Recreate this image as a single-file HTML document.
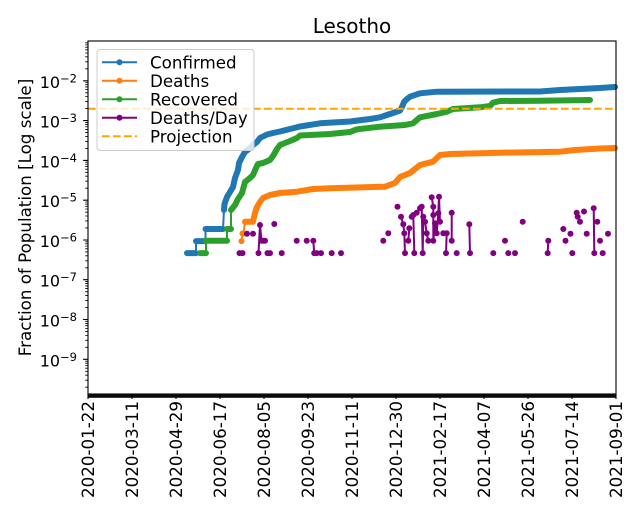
<!DOCTYPE html>
<html><head><meta charset="utf-8"><style>
html,body{margin:0;padding:0;background:#fff;}
svg{display:block;font-family:"DejaVu Sans","Liberation Sans",sans-serif;}
</style></head><body>
<svg width="640" height="520" viewBox="0 0 640 520" xmlns="http://www.w3.org/2000/svg">
<rect width="640" height="520" fill="#fff"/>
<text x="352" y="33" font-size="20" text-anchor="middle" fill="#000">Lesotho</text>

<!-- Confirmed -->
<g fill="none" stroke="#1f77b4" stroke-linejoin="round" stroke-linecap="round">
<path stroke-width="6" d="M187,253.1 L196,253.1 M196,241.1 L205.5,241.1 M205.5,229 L223,229"/>
<path stroke-width="2" d="M196,253.1 L196,241.1 M205.5,241.1 L205.5,229 M223,229 L224,210"/>
<polyline stroke-width="6" points="224,210 224.5,204 227,197 230,192 233,187 235,178 238,170 239,163 242,157 245,152 250,148 253,145 257,142 260,138 267,134.5 273,133 280,131.5 300,126.5 320,123.3 350,121.5 370,119 380,117.3 393,113 400,110.5 402,107 404,102 407,99 410,96.7 420,93.3 437,91.7 540,91.5 560,90 580,89 600,88 615,87"/>
</g>
<!-- Deaths -->
<g fill="none" stroke="#ff7f0e" stroke-linejoin="round" stroke-linecap="round">
<circle cx="241.5" cy="241.1" r="3" fill="#ff7f0e" stroke="none"/>
<path stroke-width="2" d="M241.5,241.1 L242.5,233.5 M243.5,233.5 L245,221.7"/>
<path stroke-width="6" d="M242.5,233.5 L243.5,233.5"/>
<polyline stroke-width="6" points="245,221.7 253,221.7 255,213 257,207 260,202 263,198 270,195 280,193 297,191.7 313,189 330,188.3 385,186.7 395,183 400,177 405,175 410,173 420,165 433,161.7 440,155 450,154 500,152.7 560,151.7 575,150 600,148.5 615,148"/>
</g>
<!-- Recovered -->
<g fill="none" stroke="#2ca02c" stroke-linejoin="round" stroke-linecap="round">
<path stroke-width="6" d="M200,253.1 L206,253.1 M206,240.7 L227,240.7 M227,229 L231,229"/>
<path stroke-width="2" d="M206,253.1 L206,240.7 M227,240.7 L227,229 M231,229 L231,210"/>
<polyline stroke-width="6" points="231,210 235,205 238,199 242,193 245,182 250,178 253,175 256,168 258,164 263,163 270,160 273,156 277,149 280,145 290,141 297,138 300,135.5 330,134 350,132 357,129.3 380,126.7 405,125 413,123.3 420,117.3 437,114 447,111.7 453,109 480,107.3 490,106 493,102.7 500,101 540,100.7 590,100"/>
</g>
<!-- Deaths/Day -->
<g fill="none" stroke="#800080" stroke-width="2" stroke-linejoin="round">
<polyline points="239.5,253.1 242.5,253.1"/>
<polyline points="258.5,253.1 260,225 261.5,240.7 263.5,240.7"/>
<polyline points="313.3,240.7 314.2,253.1"/>
<polyline points="401,216.7 403.3,224.3 404.3,233.3 405,253.1"/>
<polyline points="408.3,240.7 409.3,228.3"/>
<polyline points="411.7,216.7 413.3,215 414.3,253.1"/>
<polyline points="416.7,212.7 420,208.3 421.7,206.7 422.7,253.1 423.3,216.7 425,221.7 426.7,233.3 428.3,240.7"/>
<polyline points="431.7,197.3 433.3,206.7 433.3,240.7 435,223.3 436.7,233.3 438.3,213.3 439,196.7 440,221.7"/>
<polyline points="443.3,233.3 446.7,233.3 446,253.1"/>
<polyline points="451.7,212.7 451.7,240.7"/>
<polyline points="469.3,224.3 470,253.1"/>
<polyline points="547.7,253.1 548.3,240.7"/>
<polyline points="576.7,212.7 577.7,216.7 580,221.7"/>
<polyline points="593.7,208.3 594.3,253.1"/>
</g>
<g fill="#800080">
<circle cx="239.5" cy="253.1" r="3"/><circle cx="242.5" cy="253.1" r="3"/><circle cx="247" cy="233.7" r="3"/><circle cx="253" cy="233.7" r="3"/>
<circle cx="258.5" cy="253.1" r="3"/><circle cx="260" cy="225" r="3"/><circle cx="261.5" cy="240.7" r="3"/><circle cx="263.5" cy="240.7" r="3"/><circle cx="265" cy="240.7" r="3"/>
<circle cx="267.5" cy="253.1" r="3"/><circle cx="270" cy="253.1" r="3"/><circle cx="274.3" cy="224" r="3"/><circle cx="281.7" cy="253.1" r="3"/>
<circle cx="296.7" cy="240.7" r="3"/><circle cx="306.7" cy="240.7" r="3"/><circle cx="313.3" cy="240.7" r="3"/><circle cx="314.2" cy="253.1" r="3"/>
<circle cx="316.7" cy="253.1" r="3"/><circle cx="321" cy="253.1" r="3"/><circle cx="331.7" cy="253.1" r="3"/><circle cx="341" cy="253.1" r="3"/>
<circle cx="383.3" cy="240.7" r="3"/><circle cx="388.3" cy="233.3" r="3"/><circle cx="397.5" cy="206.7" r="3"/><circle cx="401" cy="216.7" r="3"/>
<circle cx="403.3" cy="224.3" r="3"/><circle cx="404.3" cy="233.3" r="3"/><circle cx="405" cy="253.1" r="3"/><circle cx="408.3" cy="240.7" r="3"/>
<circle cx="409.3" cy="228.3" r="3"/><circle cx="411.7" cy="216.7" r="3"/><circle cx="413.3" cy="215" r="3"/><circle cx="414.3" cy="253.1" r="3"/>
<circle cx="416.7" cy="212.7" r="3"/><circle cx="420" cy="208.3" r="3"/><circle cx="421.7" cy="206.7" r="3"/><circle cx="422.7" cy="253.1" r="3"/>
<circle cx="423.3" cy="216.7" r="3"/><circle cx="425" cy="221.7" r="3"/><circle cx="426.7" cy="233.3" r="3"/><circle cx="428.3" cy="240.7" r="3"/>
<circle cx="431.7" cy="197.3" r="3"/><circle cx="433.3" cy="206.7" r="3"/><circle cx="433.3" cy="215" r="3"/><circle cx="433.3" cy="240.7" r="3"/>
<circle cx="435" cy="223.3" r="3"/><circle cx="436.7" cy="233.3" r="3"/><circle cx="438.3" cy="213.3" r="3"/><circle cx="439" cy="196.7" r="3"/>
<circle cx="440" cy="221.7" r="3"/><circle cx="443.3" cy="233.3" r="3"/><circle cx="446.7" cy="233.3" r="3"/><circle cx="446" cy="253.1" r="3"/>
<circle cx="451.7" cy="212.7" r="3"/><circle cx="451.7" cy="240.7" r="3"/><circle cx="456.7" cy="253.1" r="3"/><circle cx="469.3" cy="224.3" r="3"/><circle cx="470" cy="253.1" r="3"/>
<circle cx="493.3" cy="253.1" r="3"/><circle cx="505" cy="240.7" r="3"/><circle cx="508.3" cy="253.1" r="3"/><circle cx="515" cy="253.1" r="3"/><circle cx="522.7" cy="221.7" r="3"/>
<circle cx="548.3" cy="240.7" r="3"/><circle cx="547.7" cy="253.1" r="3"/><circle cx="563.3" cy="229" r="3"/><circle cx="565.5" cy="240.7" r="3"/><circle cx="570.5" cy="233.7" r="3"/>
<circle cx="572.3" cy="253.1" r="3"/><circle cx="576.7" cy="212.7" r="3"/><circle cx="577.7" cy="216.7" r="3"/><circle cx="580" cy="221.7" r="3"/><circle cx="584" cy="211.5" r="3"/>
<circle cx="586.7" cy="233.7" r="3"/><circle cx="593.7" cy="208.3" r="3"/><circle cx="594.3" cy="253.1" r="3"/><circle cx="597.3" cy="221.7" r="3"/><circle cx="600" cy="240.7" r="3"/>
<circle cx="602.7" cy="253.1" r="3"/><circle cx="608" cy="233.7" r="3"/>
</g>
<!-- Projection -->
<line x1="88" y1="108.7" x2="616" y2="108.7" stroke="#FFA500" stroke-width="2" stroke-dasharray="7.7,3.3"/>

<!-- Axes frame -->
<rect x="88" y="41" width="528" height="353" fill="none" stroke="#000" stroke-width="1.1"/>
<!-- x minor tick band -->
<rect x="87.5" y="394" width="529" height="3.8" fill="#0a0a0a"/>
<!-- x major ticks -->
<path stroke="#000" stroke-width="1.1" d="M88,394V399 M132,394V399 M176,394V399 M220,394V399 M264,394V399 M308,394V399 M352,394V399 M396,394V399 M440,394V399 M484,394V399 M528,394V399 M572,394V399 M616,394V399"/>
<g font-size="16.7" fill="#000" text-anchor="end">
<text transform="translate(93.8,401) rotate(-90)">2020-01-22</text>
<text transform="translate(137.8,401) rotate(-90)">2020-03-11</text>
<text transform="translate(181.8,401) rotate(-90)">2020-04-29</text>
<text transform="translate(225.8,401) rotate(-90)">2020-06-17</text>
<text transform="translate(269.8,401) rotate(-90)">2020-08-05</text>
<text transform="translate(313.8,401) rotate(-90)">2020-09-23</text>
<text transform="translate(357.8,401) rotate(-90)">2020-11-11</text>
<text transform="translate(401.8,401) rotate(-90)">2020-12-30</text>
<text transform="translate(445.8,401) rotate(-90)">2021-02-17</text>
<text transform="translate(489.8,401) rotate(-90)">2021-04-07</text>
<text transform="translate(533.8,401) rotate(-90)">2021-05-26</text>
<text transform="translate(577.8,401) rotate(-90)">2021-07-14</text>
<text transform="translate(621.8,401) rotate(-90)">2021-09-01</text>
</g>
<!-- y ticks -->
<path stroke="#000" stroke-width="1.1" d="M83.1,80.8H88 M83.1,120.6H88 M83.1,160.4H88 M83.1,200.2H88 M83.1,240H88 M83.1,279.7H88 M83.1,319.5H88 M83.1,359.3H88"/>
<path stroke="#000" stroke-width="0.85" d="M85.2,68.82H88 M85.2,61.82H88 M85.2,56.84H88 M85.2,52.99H88 M85.2,49.84H88 M85.2,47.17H88 M85.2,44.87H88 M85.2,42.83H88
M85.2,108.61H88 M85.2,101.61H88 M85.2,96.63H88 M85.2,92.78H88 M85.2,89.63H88 M85.2,86.96H88 M85.2,84.66H88 M85.2,82.62H88
M85.2,148.4H88 M85.2,141.4H88 M85.2,136.42H88 M85.2,132.57H88 M85.2,129.42H88 M85.2,126.75H88 M85.2,124.45H88 M85.2,122.41H88
M85.2,188.19H88 M85.2,181.19H88 M85.2,176.21H88 M85.2,172.36H88 M85.2,169.21H88 M85.2,166.54H88 M85.2,164.24H88 M85.2,162.2H88
M85.2,227.98H88 M85.2,220.98H88 M85.2,216H88 M85.2,212.15H88 M85.2,209H88 M85.2,206.33H88 M85.2,204.03H88 M85.2,201.99H88
M85.2,267.77H88 M85.2,260.77H88 M85.2,255.79H88 M85.2,251.94H88 M85.2,248.79H88 M85.2,246.12H88 M85.2,243.82H88 M85.2,241.78H88
M85.2,307.56H88 M85.2,300.56H88 M85.2,295.58H88 M85.2,291.73H88 M85.2,288.58H88 M85.2,285.91H88 M85.2,283.61H88 M85.2,281.57H88
M85.2,347.35H88 M85.2,340.35H88 M85.2,335.37H88 M85.2,331.52H88 M85.2,328.37H88 M85.2,325.7H88 M85.2,323.4H88 M85.2,321.36H88
M85.2,387.14H88 M85.2,380.14H88 M85.2,375.16H88 M85.2,371.31H88 M85.2,368.16H88 M85.2,365.49H88 M85.2,363.19H88 M85.2,361.15H88"/>
<g font-size="16" fill="#000" text-anchor="end">
<text x="77" y="87.8">10<tspan font-size="11.5" dy="-5.5">−2</tspan></text>
<text x="77" y="127.6">10<tspan font-size="11.5" dy="-5.5">−3</tspan></text>
<text x="77" y="167.4">10<tspan font-size="11.5" dy="-5.5">−4</tspan></text>
<text x="77" y="207.2">10<tspan font-size="11.5" dy="-5.5">−5</tspan></text>
<text x="77" y="247">10<tspan font-size="11.5" dy="-5.5">−6</tspan></text>
<text x="77" y="286.7">10<tspan font-size="11.5" dy="-5.5">−7</tspan></text>
<text x="77" y="326.5">10<tspan font-size="11.5" dy="-5.5">−8</tspan></text>
<text x="77" y="366.3">10<tspan font-size="11.5" dy="-5.5">−9</tspan></text>
</g>
<text transform="translate(31,217.5) rotate(-90)" font-size="16.7" text-anchor="middle" fill="#000">Fraction of Population [Log scale]</text>

<!-- Legend -->
<rect x="97" y="49.5" width="157" height="101" rx="3" ry="3" fill="#fff" fill-opacity="0.8" stroke="#cccccc" stroke-width="1"/>
<g stroke-width="2">
<line x1="102" y1="62.3" x2="137" y2="62.3" stroke="#1f77b4"/><circle cx="119.5" cy="62.3" r="3" fill="#1f77b4"/>
<line x1="102" y1="80.8" x2="137" y2="80.8" stroke="#ff7f0e"/><circle cx="119.5" cy="80.8" r="3" fill="#ff7f0e"/>
<line x1="102" y1="99.3" x2="137" y2="99.3" stroke="#2ca02c"/><circle cx="119.5" cy="99.3" r="3" fill="#2ca02c"/>
<line x1="102" y1="117.8" x2="137" y2="117.8" stroke="#800080"/><circle cx="119.5" cy="117.8" r="3" fill="#800080"/>
<line x1="102" y1="136.3" x2="137" y2="136.3" stroke="#FFA500" stroke-dasharray="7.7,3.3"/>
</g>
<g font-size="16.7" fill="#000">
<text x="150" y="68.3">Confirmed</text>
<text x="150" y="86.8">Deaths</text>
<text x="150" y="105.3">Recovered</text>
<text x="150" y="123.8">Deaths/Day</text>
<text x="150" y="142.3">Projection</text>
</g>
</svg>
</body></html>
